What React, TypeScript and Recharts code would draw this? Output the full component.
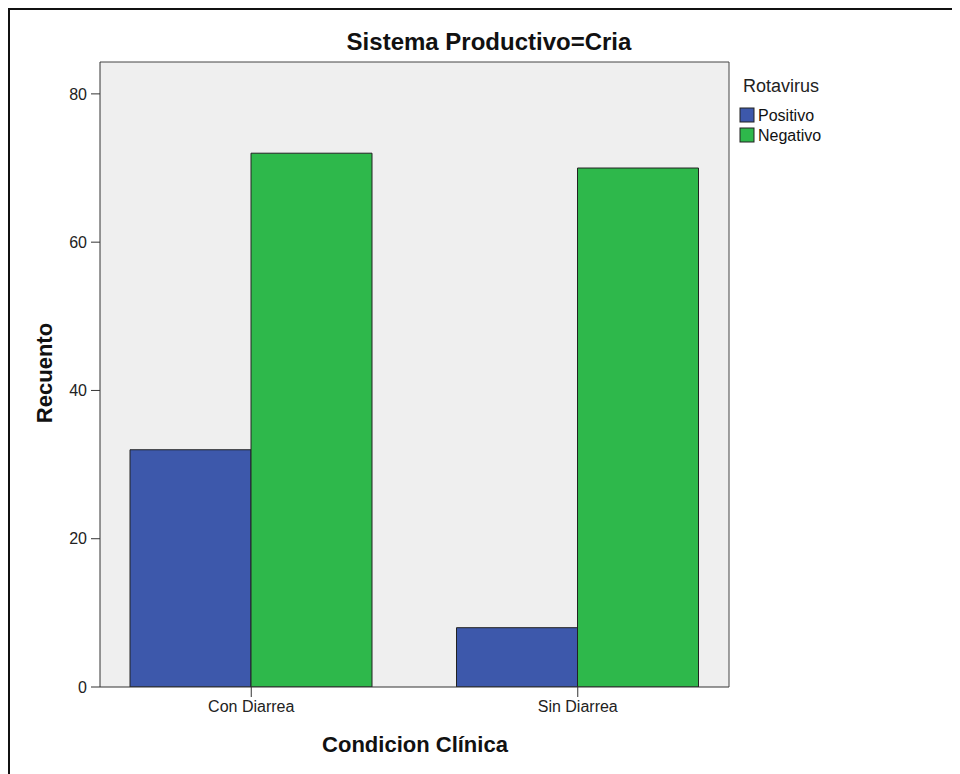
import React from "react";
import { BarChart, Bar, XAxis, YAxis, CartesianGrid } from "recharts";

const categories = ["Con Diarrea", "Sin Diarrea"];
const positivo = [32, 8];
const negativo = [72, 70];
const yTicks = [0, 20, 40, 60, 80];
const legendTitle = "Rotavirus";
const seriesNames = ["Positivo", "Negativo"];
const seriesColors = ["#3D58AB", "#2EB84B"];

const data = categories.map((c, i) => ({ cat: c, Positivo: positivo[i], Negativo: negativo[i] }));

const FONT = "'Liberation Sans', Arial, sans-serif";

export default function App() {
  return (
    <div style={{ width: 952, height: 766, boxSizing: "border-box", borderTop: "2px solid #111", borderLeft: "2px solid #111", background: "#fff" }}>
      <BarChart
        width={950}
        height={764}
        data={data}
        margin={{ top: 51, right: 230, bottom: 57, left: 30 }}
        barCategoryGap={42}
        barGap={0}
        style={{ fontFamily: FONT }}
      >
        <CartesianGrid horizontal={false} vertical={false} fill="#EFEFEF" />
        <XAxis
          dataKey="cat"
          xAxisId="main"
          height={30}
          padding={{ left: -12, right: -12 }}
          tickSize={10}
          tickMargin={4}
          tick={{ fontSize: 16, fill: "#222", fontFamily: FONT }}
          axisLine={{ stroke: "#333" }}
          tickLine={{ stroke: "#333" }}
        />
        <XAxis dataKey="cat" xAxisId="top" orientation="top" height={1} tick={false} tickLine={false} axisLine={{ stroke: "#444" }} />
        <YAxis
          yAxisId="main"
          width={60}
          domain={[0, 84.3]}
          ticks={yTicks}
          allowDataOverflow
          tickSize={9}
          tickMargin={4}
          tick={{ fontSize: 16, fill: "#222", fontFamily: FONT }}
          axisLine={{ stroke: "#333" }}
          tickLine={{ stroke: "#333" }}
        />
        <YAxis yAxisId="right" orientation="right" width={1} tick={false} tickLine={false} axisLine={{ stroke: "#444" }} domain={[0, 84.3]} />
        <Bar dataKey="Positivo" xAxisId="main" yAxisId="main" fill={seriesColors[0]} stroke="#222" strokeWidth={1} isAnimationActive={false} />
        <Bar dataKey="Negativo" xAxisId="main" yAxisId="main" fill={seriesColors[1]} stroke="#222" strokeWidth={1} isAnimationActive={false} />
        <g transform="translate(728,60)">
          <text x={5} y={22} fontSize={18} fontFamily={FONT} fill="#222">{legendTitle}</text>
          {seriesNames.map((n, i) => (
            <g key={n}>
              <rect x={2} y={38 + i * 20} width={14} height={14} fill={seriesColors[i]} stroke="#222" strokeWidth={1} />
              <text x={20} y={51 + i * 20} fontSize={16} fontFamily={FONT} fill="#111">{n}</text>
            </g>
          ))}
        </g>
        <text x={479} y={40} textAnchor="middle" fontSize={24} fontWeight="bold" fontFamily={FONT} fill="#111">Sistema Productivo=Cria</text>
        <text x={34} y={363} transform="rotate(-90 34 363)" textAnchor="middle" dominantBaseline="central" fontSize={22} fontWeight="bold" fontFamily={FONT} fill="#111">Recuento</text>
        <text x={405} y={742} textAnchor="middle" fontSize={22} fontWeight="bold" fontFamily={FONT} fill="#111">Condicion Clínica</text>
      </BarChart>
    </div>
  );
}
